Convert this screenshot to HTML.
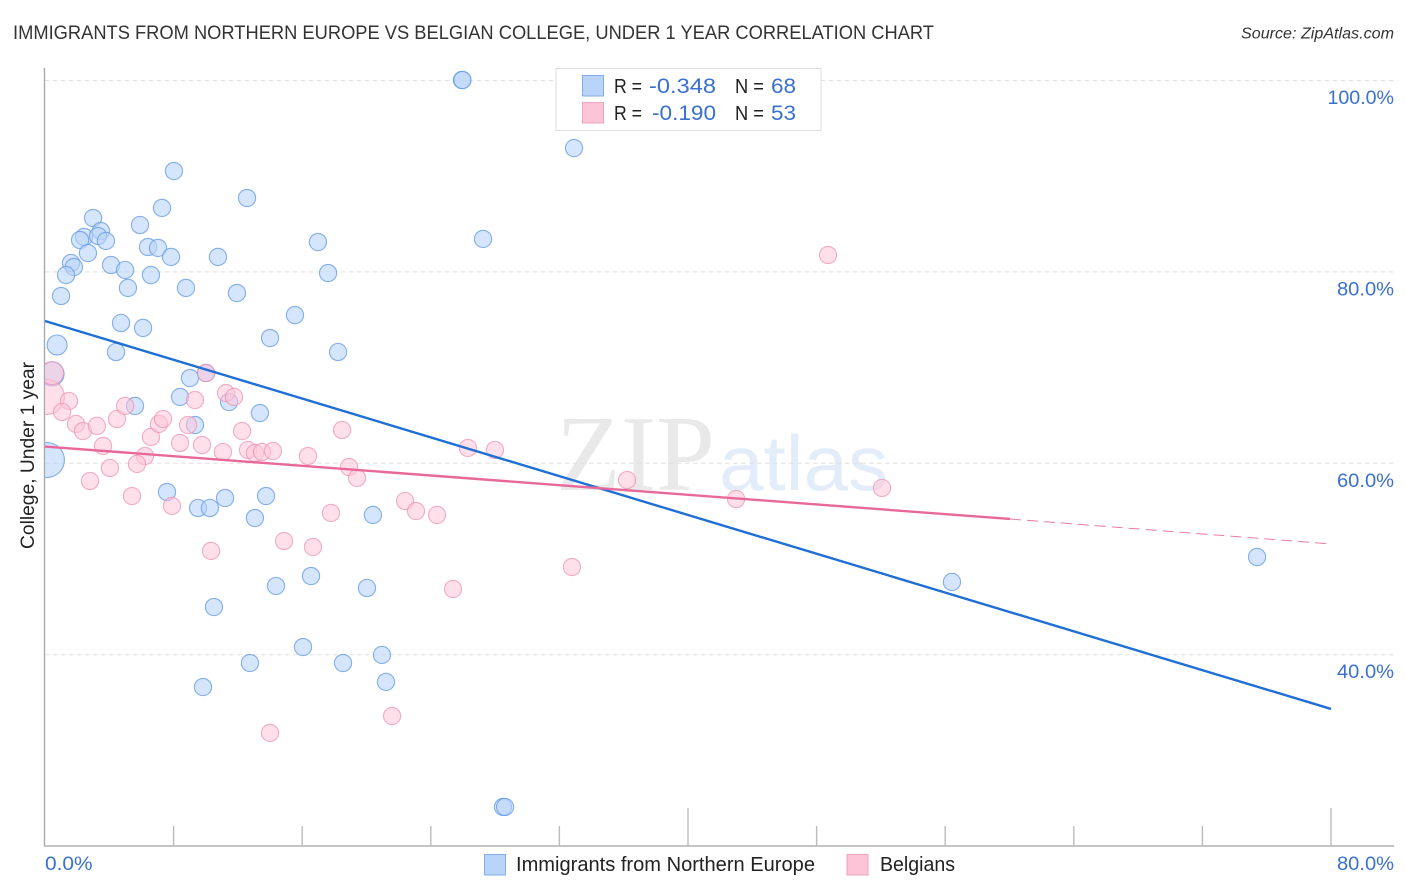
<!DOCTYPE html>
<html lang="en">
<head>
<meta charset="utf-8">
<title>Immigrants from Northern Europe vs Belgian College, Under 1 Year Correlation Chart</title>
<style>
  html, body { margin: 0; padding: 0; background: #fff; }
  #chart { display: block; width: 1406px; height: 892px; font-family: "Liberation Sans", sans-serif; }
</style>
</head>
<body>
<svg id="chart" xmlns="http://www.w3.org/2000/svg" width="1406" height="892" viewBox="0 0 1406 892">
  <defs>
    <clipPath id="plot-clip"><rect x="45" y="60" width="1349" height="786"></rect></clipPath>
  </defs>
  <text x="13" y="39" font-size="19.5" fill="#333" textLength="921" lengthAdjust="spacingAndGlyphs">IMMIGRANTS FROM NORTHERN EUROPE VS BELGIAN COLLEGE, UNDER 1 YEAR CORRELATION CHART</text>
  <text x="1241" y="38.5" font-size="15.5" font-style="italic" fill="#333" textLength="153" lengthAdjust="spacingAndGlyphs">Source: ZipAtlas.com</text>

  <text x="556" y="490" font-size="108" fill="#e9e9e9" style="font-family:'Liberation Serif',serif" textLength="159" lengthAdjust="spacingAndGlyphs">ZIP</text>
  <text x="719" y="490" font-size="78" fill="#e3edf9" textLength="169" lengthAdjust="spacingAndGlyphs">atlas</text>

  <g id="grid"></g>
  <g id="axes"></g>
  <g id="blue-points" clip-path="url(#plot-clip)"></g>
  <g id="pink-points" clip-path="url(#plot-clip)"></g>
  <g id="trends"></g>

  <text transform="translate(34,549) rotate(-90)" font-size="19" fill="#222" textLength="187" lengthAdjust="spacingAndGlyphs">College, Under 1 year</text>

  <g>
    <rect x="556" y="68.5" width="265" height="62" fill="#fff" stroke="#ddd" stroke-width="1"></rect>
    <rect x="582.5" y="75.5" width="21" height="20.5" fill="#b9d4f9" stroke="#82ade8" stroke-width="1"></rect>
    <text x="614" y="93" font-size="20" fill="#222" textLength="28" lengthAdjust="spacingAndGlyphs">R =</text>
    <text x="649" y="93" font-size="21" fill="#3a70d0" textLength="67" lengthAdjust="spacingAndGlyphs">-0.348</text>
    <text x="735" y="93" font-size="20" fill="#222" textLength="29" lengthAdjust="spacingAndGlyphs">N =</text>
    <text x="771" y="93" font-size="21" fill="#3a70d0" textLength="25" lengthAdjust="spacingAndGlyphs">68</text>
    <rect x="582.5" y="102.5" width="21" height="20.5" fill="#fdc4d8" stroke="#f0a3bd" stroke-width="1"></rect>
    <text x="614" y="120" font-size="20" fill="#222" textLength="28" lengthAdjust="spacingAndGlyphs">R =</text>
    <text x="652" y="120" font-size="21" fill="#3a70d0" textLength="64" lengthAdjust="spacingAndGlyphs">-0.190</text>
    <text x="735" y="120" font-size="20" fill="#222" textLength="29" lengthAdjust="spacingAndGlyphs">N =</text>
    <text x="771" y="120" font-size="21" fill="#3a70d0" textLength="25" lengthAdjust="spacingAndGlyphs">53</text>
  </g>

  <g>
    <rect x="484.5" y="854.5" width="21" height="20.5" fill="#b9d4f9" stroke="#82ade8" stroke-width="1"></rect>
    <text x="516" y="871" font-size="20" fill="#222" textLength="299" lengthAdjust="spacingAndGlyphs">Immigrants from Northern Europe</text>
  </g>
  <g>
    <rect x="847" y="854.5" width="21" height="20.5" fill="#fdc4d8" stroke="#f0a3bd" stroke-width="1"></rect>
    <text x="880" y="871" font-size="20" fill="#222" textLength="75" lengthAdjust="spacingAndGlyphs">Belgians</text>
  </g>
</svg>
<script>
const yTicks = [100, 80, 60, 40];
const yTickLabels = ['100.0%', '80.0%', '60.0%', '40.0%'];
const xTicks = [0, 8, 16, 24, 32, 40, 48, 56, 64, 72, 80];
const xMajorTicks = [40, 80];
const xTickLabels = ['0.0%', '80.0%'];
const xLabelValues = [0, 80];

const bluePop = [4.14, 1.95, 1.35];
const blueX = [0.12, 0.44, 0.75, 25.94, 25.97, 32.91, 8.02, 12.57, 7.28, 2.99, 5.91, 3.48, 2.43, 2.18, 3.30, 3.79, 6.41, 7.03, 16.98, 27.25, 2.67, 7.84, 10.76, 4.11, 1.62, 1.80, 1.31, 4.98, 6.59, 17.61, 5.16, 8.77, 1.00, 11.94, 15.55, 4.73, 6.10, 14.00, 4.42, 18.23, 9.02, 10.02, 8.40, 5.60, 11.45, 13.37, 9.33, 7.59, 9.52, 10.26, 11.20, 13.75, 13.06, 20.40, 14.37, 16.55, 20.03, 10.51, 16.05, 20.96, 12.75, 18.54, 21.21, 9.83, 56.42, 75.40, 28.49, 28.62];
const blueY = [60.29, 69.28, 72.31, 100, 100, 92.89, 90.49, 87.67, 86.63, 85.58, 84.85, 84.22, 83.60, 83.28, 83.70, 83.18, 82.55, 82.45, 83.07, 83.39, 81.92, 81.51, 81.51, 80.67, 80.88, 80.46, 79.62, 80.15, 79.62, 79.83, 78.27, 78.27, 77.43, 77.74, 75.44, 74.61, 74.09, 73.04, 71.58, 71.58, 68.86, 69.38, 66.88, 65.94, 66.35, 65.20, 63.95, 56.95, 55.28, 55.28, 56.32, 56.53, 54.23, 54.55, 47.13, 48.17, 46.92, 44.93, 40.75, 39.92, 39.08, 39.08, 37.10, 36.57, 47.55, 50.16, 24.04, 24.04];

const pinkPop = [4.14, 1.8];
const pinkX = [0.12, 0.44, 48.71, 1.49, 1.06, 1.93, 2.36, 3.23, 4.48, 4.98, 3.61, 4.04, 2.80, 5.41, 6.22, 5.72, 6.59, 7.09, 7.34, 8.90, 9.33, 8.40, 9.77, 10.02, 11.26, 11.76, 12.26, 11.07, 7.90, 12.63, 13.06, 13.50, 14.18, 16.36, 18.48, 18.91, 19.41, 17.79, 14.87, 16.67, 10.33, 22.40, 23.08, 24.39, 26.31, 27.99, 36.21, 42.99, 52.07, 32.78, 25.38, 21.59, 14.00];
const pinkY = [66.88, 69.38, 81.71, 66.46, 65.31, 64.06, 63.32, 63.85, 64.58, 65.94, 61.76, 59.46, 58.10, 56.53, 60.71, 59.88, 62.70, 64.06, 64.58, 63.95, 66.56, 62.07, 61.86, 69.38, 67.29, 66.88, 63.32, 61.13, 55.49, 61.34, 61.02, 61.13, 61.23, 60.71, 63.43, 59.56, 58.41, 54.76, 51.83, 51.20, 50.79, 56.01, 54.96, 54.55, 61.55, 61.34, 58.20, 56.22, 57.37, 49.11, 46.81, 33.54, 31.77];

const blueTrendX = [0, 80];
const blueTrendY = [74.82, 34.28];
const pinkTrendX = [0, 60.03];
const pinkTrendY = [61.70, 54.13];
const pinkDashX = [60.03, 80];
const pinkDashY = [54.13, 51.52];

const NS = 'http://www.w3.org/2000/svg';
function xScale(v) { return 45 + v * 16.075; }
function yScale(v) { return 80 + (100 - v) * 9.57; }
function rScale(p) { return 8.6 * Math.sqrt(p); }
function labelWidth(s) { return 9.5 * s.length + 9.5; }
function make(tag, parent, attrs, txt) {
  const el = document.createElementNS(NS, tag);
  for (const k in attrs) { el.setAttribute(k, attrs[k]); }
  if (txt !== undefined) { el.textContent = txt; }
  parent.appendChild(el);
  return el;
}

const grid = document.getElementById('grid');
const axes = document.getElementById('axes');

yTicks.forEach(function (t, i) {
  const gl = make('line', grid, { x1: 45, x2: 1394, y1: yScale(t) + 0.5, y2: yScale(t) + 0.5, stroke: '#e0e0e0', 'stroke-width': 1, 'stroke-dasharray': '4.5 3.5' });
  
  
  const lab = make('text', axes, { x: 1394, y: yScale(t) + 24, 'text-anchor': 'end', 'font-size': 19.6, fill: '#3a70d0', textLength: labelWidth(yTickLabels[i]), lengthAdjust: 'spacingAndGlyphs' }, yTickLabels[i]);
  
  
});

const yAxisLine = make('line', axes, { x1: 44.5, x2: 44.5, y1: 68, y2: 846.5, stroke: '#aaa', 'stroke-width': 1.4 });


const xAxisLine = make('line', axes, { x1: 44, x2: 1394, y1: 846, y2: 846, stroke: '#b0b0b0', 'stroke-width': 1.4 });



xTicks.forEach(function (t) {
  if (t === 0) { return; }
  const top = xMajorTicks.indexOf(t) >= 0 ? 808 : 826;
  const tick = make('line', axes, { x1: xScale(t), x2: xScale(t), y1: top, y2: 846, stroke: '#bbb', 'stroke-width': 1.4 });
  
  
});

xLabelValues.forEach(function (v, i) {
  const attrs = i === 0
    ? { x: xScale(v), y: 870, 'font-size': 19.6, fill: '#3a70d0', textLength: labelWidth(xTickLabels[i]), lengthAdjust: 'spacingAndGlyphs' }
    : { x: 1394, y: 870, 'text-anchor': 'end', 'font-size': 19.6, fill: '#3a70d0', textLength: labelWidth(xTickLabels[i]), lengthAdjust: 'spacingAndGlyphs' };
  const lab = make('text', axes, attrs, xTickLabels[i]);
  
  
});

const blueGroup = document.getElementById('blue-points');
blueX.forEach(function (v, i) {
  const c = make('circle', blueGroup, { cx: xScale(v), cy: yScale(blueY[i]), r: rScale(bluePop[i] || 1), fill: '#b9d4f9', 'fill-opacity': 0.6, stroke: '#5f97e6', 'stroke-opacity': 0.75, 'stroke-width': 1.1 });
  
  
});

const pinkGroup = document.getElementById('pink-points');
pinkX.forEach(function (v, i) {
  const c = make('circle', pinkGroup, { cx: xScale(v), cy: yScale(pinkY[i]), r: rScale(pinkPop[i] || 1), fill: '#fdc4d8', 'fill-opacity': 0.55, stroke: '#ec8fae', 'stroke-opacity': 0.7, 'stroke-width': 1.1 });
  
  
});

const trends = document.getElementById('trends');
const blueTrend = make('line', trends, { x1: xScale(blueTrendX[0]), y1: yScale(blueTrendY[0]), x2: xScale(blueTrendX[1]), y2: yScale(blueTrendY[1]), stroke: '#1f6fd6', 'stroke-width': 2.4 });


const pinkTrend = make('line', trends, { x1: xScale(pinkTrendX[0]), y1: yScale(pinkTrendY[0]), x2: xScale(pinkTrendX[1]), y2: yScale(pinkTrendY[1]), stroke: '#e9689a', 'stroke-width': 2.4 });


const pinkDash = make('line', trends, { x1: xScale(pinkDashX[0]), y1: yScale(pinkDashY[0]), x2: xScale(pinkDashX[1]), y2: yScale(pinkDashY[1]), stroke: '#ea7ba5', 'stroke-width': 1, 'stroke-dasharray': '11 6' });


</script>
</body>
</html>
